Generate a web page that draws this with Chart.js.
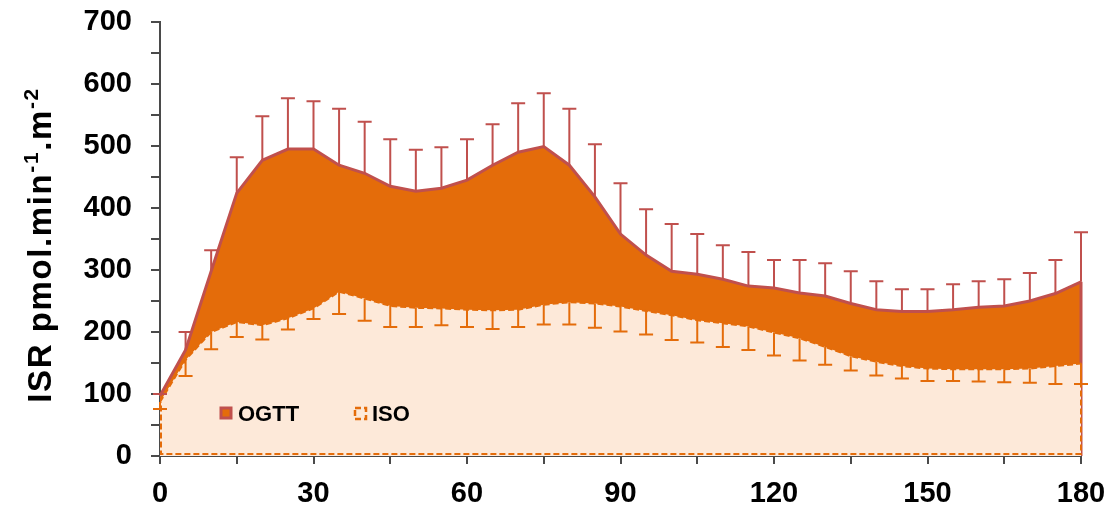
<!DOCTYPE html>
<html>
<head>
<meta charset="utf-8">
<script src="https://cdn.jsdelivr.net/npm/chart.js@4.4.1/dist/chart.umd.min.js"></script>
<style>
  html, body { margin: 0; padding: 0; background: #fff; }
  #wrap { width: 1118px; height: 510px; position: relative; }
</style>
</head>
<body>
<div id="wrap"><canvas id="isrChart"></canvas></div>
<script>
// Sampling times in minutes
const times = [0, 5, 10, 15, 20, 25, 30, 35, 40, 45, 50, 55, 60, 65, 70, 75, 80, 85, 90,
  95, 100, 105, 110, 115, 120, 125, 130, 135, 140, 145, 150, 155, 160, 165, 170, 175, 180];

// OGTT insulin secretion rate (mean) and its error (drawn upwards)
const ogtt = [97, 171, 298, 424, 477, 495, 495, 469, 456, 435, 427, 432, 445, 469, 490, 499, 469, 418, 358,
  324, 298, 293, 285, 274, 271, 263, 258, 246, 236, 233, 233, 236, 240, 242, 250, 262, 281];
const ogttErr = [3, 29, 34, 58, 71, 82, 77, 91, 83, 76, 67, 66, 66, 66, 79, 86, 91, 85, 82,
  74, 76, 65, 55, 55, 45, 53, 53, 52, 46, 36, 36, 41, 42, 43, 45, 54, 80];

// ISO (isoglycaemic iv glucose) insulin secretion rate and its error (drawn downwards)
const iso = [87, 155, 200, 216, 211, 222, 238, 265, 254, 242, 239, 238, 236, 235, 236, 244, 248, 246, 241,
  234, 227, 219, 214, 209, 199, 190, 176, 161, 152, 145, 141, 140, 140, 140, 141, 145, 149];
const isoErr = [11, 26, 28, 24, 23, 18, 17, 36, 36, 34, 31, 27, 28, 30, 28, 32, 36, 39, 40,
  38, 40, 36, 38, 38, 37, 36, 29, 23, 22, 20, 20, 19, 20, 21, 23, 29, 33];

const xTickLabels = [0, 30, 60, 90, 120, 150, 180];
const yTickLabels = [0, 100, 200, 300, 400, 500, 600, 700];
const seriesNames = ['OGTT', 'ISO'];

// colours
const ogttFill = '#E46C0A';
const ogttLine = '#C0504D';
const isoFill = '#FDE9D9';
const isoLine = '#E46C0A';
const axisColor = '#4a4a4a';
const fontFamily = "'Liberation Sans', Arial, sans-serif";

Chart.defaults.font.family = fontFamily;
Chart.defaults.color = '#000';

// Extra drawing: area edges, error bars, legend and the y axis title with superscripts
const extrasPlugin = {
  id: 'extras',
  afterDatasetDraw(chart, args) {
    const ctx = chart.ctx, xs = chart.scales.x, ys = chart.scales.y;
    const last = times.length - 1;
    const xr = xs.getPixelForValue(times[last]);
    const xl = xs.getPixelForValue(times[0]);
    const y0 = ys.getPixelForValue(0);
    ctx.save();
    if (args.index === 1) {
      // right edge of the OGTT area
      ctx.strokeStyle = ogttLine;
      ctx.lineWidth = 3;
      ctx.beginPath();
      ctx.moveTo(xr, ys.getPixelForValue(ogtt[last]));
      ctx.lineTo(xr, y0);
      ctx.stroke();
    }
    if (args.index === 0) {
      // dashed outline on the other sides of the ISO area
      ctx.strokeStyle = isoLine;
      ctx.lineWidth = 2;
      ctx.setLineDash([6, 3]);
      ctx.beginPath();
      ctx.moveTo(xr, ys.getPixelForValue(iso[last]));
      ctx.lineTo(xr, y0 - 2);
      ctx.lineTo(xl + 1, y0 - 2);
      ctx.lineTo(xl + 1, ys.getPixelForValue(iso[0]));
      ctx.stroke();
    }
    ctx.restore();
  },
  afterDatasetsDraw(chart) {
    const ctx = chart.ctx, xs = chart.scales.x, ys = chart.scales.y;
    const cap = 7;
    ctx.save();
    ctx.lineWidth = 2;
    // OGTT error bars (up)
    ctx.strokeStyle = ogttLine;
    times.forEach((t, i) => {
      const px = xs.getPixelForValue(t);
      const top = ys.getPixelForValue(ogtt[i] + ogttErr[i]);
      ctx.beginPath();
      ctx.moveTo(px, ys.getPixelForValue(ogtt[i]));
      ctx.lineTo(px, top);
      ctx.moveTo(px - cap, top);
      ctx.lineTo(px + cap, top);
      ctx.stroke();
    });
    // ISO error bars (down)
    ctx.strokeStyle = isoLine;
    times.forEach((t, i) => {
      const px = xs.getPixelForValue(t);
      const bot = ys.getPixelForValue(iso[i] - isoErr[i]);
      ctx.beginPath();
      ctx.moveTo(px, ys.getPixelForValue(iso[i]));
      ctx.lineTo(px, bot);
      ctx.moveTo(px - cap, bot);
      ctx.lineTo(px + cap, bot);
      ctx.stroke();
    });

    // legend inside the plot
    const lx = chart.chartArea.left + 61, ly = 414;
    ctx.fillStyle = ogttFill;
    ctx.strokeStyle = ogttLine;
    ctx.lineWidth = 3;
    ctx.fillRect(lx, ly - 6, 10, 10);
    ctx.strokeRect(lx, ly - 6, 10, 10);
    ctx.fillStyle = '#000';
    ctx.font = 'bold 22px ' + fontFamily;
    ctx.textBaseline = 'middle';
    ctx.fillText(seriesNames[0], lx + 17, ly + 1);
    const lx2 = lx + 134;
    ctx.fillStyle = isoFill;
    ctx.fillRect(lx2, ly - 6, 11, 11);
    ctx.strokeStyle = isoLine;
    ctx.lineWidth = 2.5;
    ctx.setLineDash([6, 3]);
    ctx.strokeRect(lx2, ly - 6, 11, 11);
    ctx.setLineDash([]);
    ctx.fillStyle = '#000';
    ctx.fillText(seriesNames[1], lx2 + 17, ly + 1);

    // y axis title: ISR pmol.min-1.m-2 with superscripts
    const parts = [
      { t: 'ISR pmol.min', sup: false },
      { t: '-1', sup: true },
      { t: '.m', sup: false },
      { t: '-2', sup: true }
    ];
    const big = 'bold 33px ' + fontFamily, small = 'bold 21px ' + fontFamily;
    ctx.letterSpacing = '1.6px';
    let total = 0;
    parts.forEach(p => { ctx.font = p.sup ? small : big; p.w = ctx.measureText(p.t).width; total += p.w; });
    ctx.translate(51, 245);
    ctx.rotate(-Math.PI / 2);
    ctx.textBaseline = 'alphabetic';
    ctx.fillStyle = '#000';
    let cx = -total / 2;
    parts.forEach(p => {
      ctx.font = p.sup ? small : big;
      ctx.fillText(p.t, cx, p.sup ? -13 : 0);
      cx += p.w;
    });
    ctx.restore();
  }
};

const ctx = document.getElementById('isrChart').getContext('2d');

new Chart(ctx, {
  type: 'line',
  data: {
    datasets: [
      {
        label: seriesNames[1],
        data: times.map((t, i) => ({ x: t, y: iso[i] })),
        borderColor: isoLine,
        borderWidth: 2,
        borderDash: [6, 3],
        backgroundColor: isoFill,
        fill: 'origin',
        pointRadius: 0,
        tension: 0
      },
      {
        label: seriesNames[0],
        data: times.map((t, i) => ({ x: t, y: ogtt[i] })),
        borderColor: ogttLine,
        borderWidth: 3,
        backgroundColor: ogttFill,
        fill: 'origin',
        pointRadius: 0,
        tension: 0
      }
    ]
  },
  options: {
    responsive: true,
    maintainAspectRatio: false,
    animation: false,
    layout: { padding: { top: 22, right: 37, left: 0, bottom: 0 } },
    plugins: {
      legend: { display: false },
      tooltip: { enabled: false }
    },
    scales: {
      x: {
        type: 'linear',
        min: 0,
        max: 180,
        afterFit: s => { s.height = 54; s.paddingLeft = 0; s.paddingRight = 0; },
        ticks: {
          stepSize: 15,
          autoSkip: false,
          maxRotation: 0,
          padding: 13,
          font: { size: 29, weight: 'bold' },
          color: '#000',
          callback: v => xTickLabels.includes(v) ? String(v) : ''
        },
        grid: { drawOnChartArea: false, drawTicks: true, tickLength: 8, color: axisColor, lineWidth: 2 },
        border: { display: true, color: axisColor, width: 2 }
      },
      y: {
        min: 0,
        max: 700,
        afterFit: s => { s.width = 160; s.paddingTop = 0; s.paddingBottom = 0; },
        ticks: {
          stepSize: 50,
          autoSkip: false,
          padding: 19,
          font: { size: 29, weight: 'bold' },
          color: '#000',
          callback: v => yTickLabels.includes(v) ? String(v) : ''
        },
        grid: { drawOnChartArea: false, drawTicks: true, tickLength: 9, color: axisColor, lineWidth: 2 },
        border: { display: true, color: axisColor, width: 2 }
      }
    }
  },
  plugins: [extrasPlugin]
});
</script>
</body>
</html>
